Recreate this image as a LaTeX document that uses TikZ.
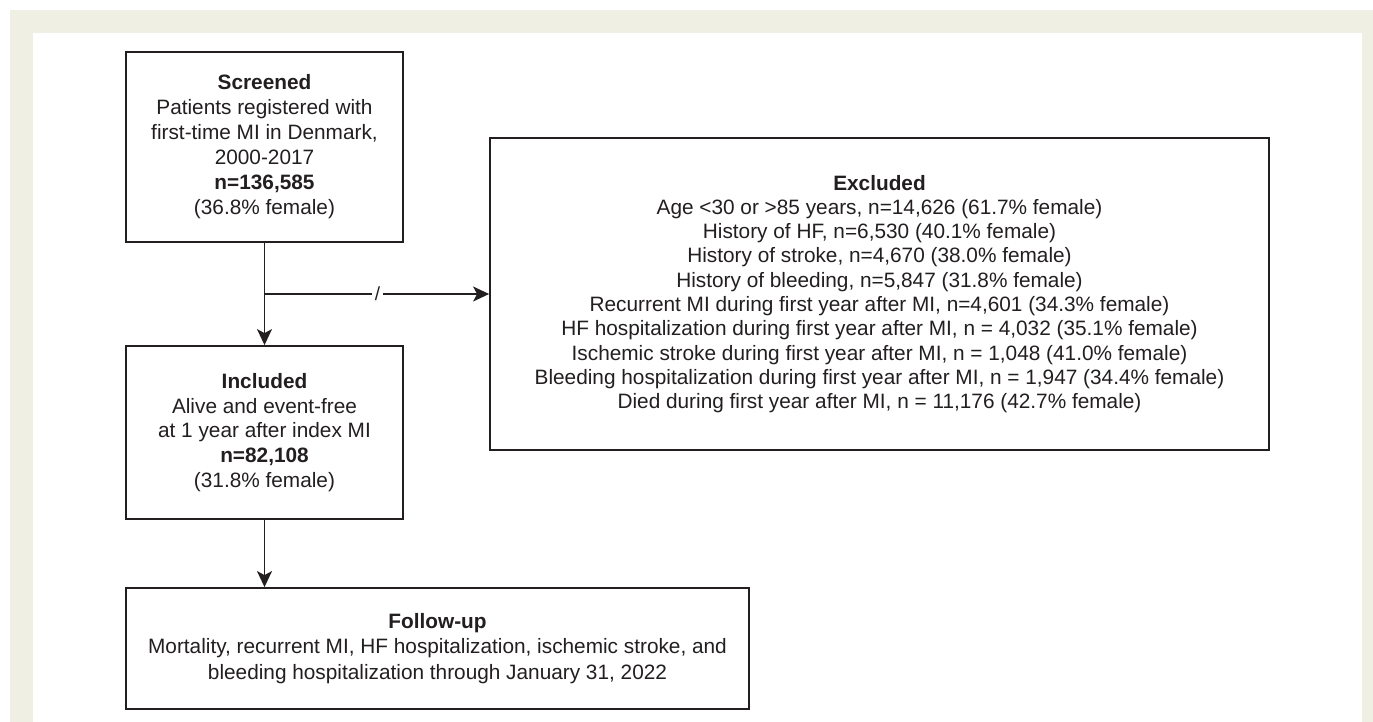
\documentclass[tikz,border=0pt]{standalone}
\usepackage{fontspec}
\setmainfont{Liberation Sans}
\usetikzlibrary{arrows.meta}
\definecolor{framebg}{HTML}{EFEFE3}
\definecolor{ink}{HTML}{231F20}
\begin{document}
\begin{tikzpicture}[x=1pt,y=-1pt,
  box/.style={draw=ink, line width=1.8pt, rectangle, inner sep=0pt, align=center,
    text=ink, font=\fontsize{20.8}{25}\selectfont},
  conn/.style={draw=ink, line width=1.6pt, -{Stealth[length=16pt,width=15pt,inset=4pt]}},
  slash/.style={fill=white, inner sep=2.5pt, text=ink, font=\fontsize{19}{20}\selectfont}]
\fill[white] (0,0) rectangle (1373,722);
\useasboundingbox (0,0) rectangle (1373,722);
\fill[framebg] (10,10) rectangle (1373,722);
\fill[white] (33,33) rectangle (1362,722);

\node[box, minimum width=277pt, minimum height=190pt] (scr) at (264.5,147)
  {\textbf{Screened}\\Patients registered with\\first-time MI in Denmark,\\2000-2017\\\textbf{n=136,585}\\(36.8\% female)};

\node[box, minimum width=277pt, minimum height=173pt, font=\fontsize{20.8}{24.8}\selectfont] (inc) at (264.5,432.5)
  {\textbf{Included}\\Alive and event-free\\at 1 year after index MI\\\textbf{n=82,108}\\(31.8\% female)};

\node[box, minimum width=779pt, minimum height=312pt, font=\fontsize{20.8}{24.3}\selectfont] (exc) at (879.5,294)
  {\textbf{Excluded}\\
   Age <30 or >85 years, n=14,626 (61.7\% female)\\
   History of HF, n=6,530 (40.1\% female)\\
   History of stroke, n=4,670 (38.0\% female)\\
   History of bleeding, n=5,847 (31.8\% female)\\
   Recurrent MI during first year after MI, n=4,601 (34.3\% female)\\
   HF hospitalization during first year after MI, n = 4,032 (35.1\% female)\\
   Ischemic stroke during first year after MI, n = 1,048 (41.0\% female)\\
   Bleeding hospitalization during first year after MI, n = 1,947 (34.4\% female)\\
   Died during first year after MI, n = 11,176 (42.7\% female)};

\node[box, minimum width=623pt, minimum height=121pt, font=\fontsize{20.8}{25.5}\selectfont] (fu) at (437.5,648.5)
  {\textbf{Follow-up}\\Mortality, recurrent MI, HF hospitalization, ischemic stroke, and\\bleeding hospitalization through January 31, 2022};

\draw[conn] (scr.south) -- (inc.north);
\draw[conn] (scr.south |- exc.west) -- (exc.west) node[slash, pos=0.503] (sl) {/};
\draw[conn] (inc.south) -- (inc.south |- fu.north);
\end{tikzpicture}
\end{document}
